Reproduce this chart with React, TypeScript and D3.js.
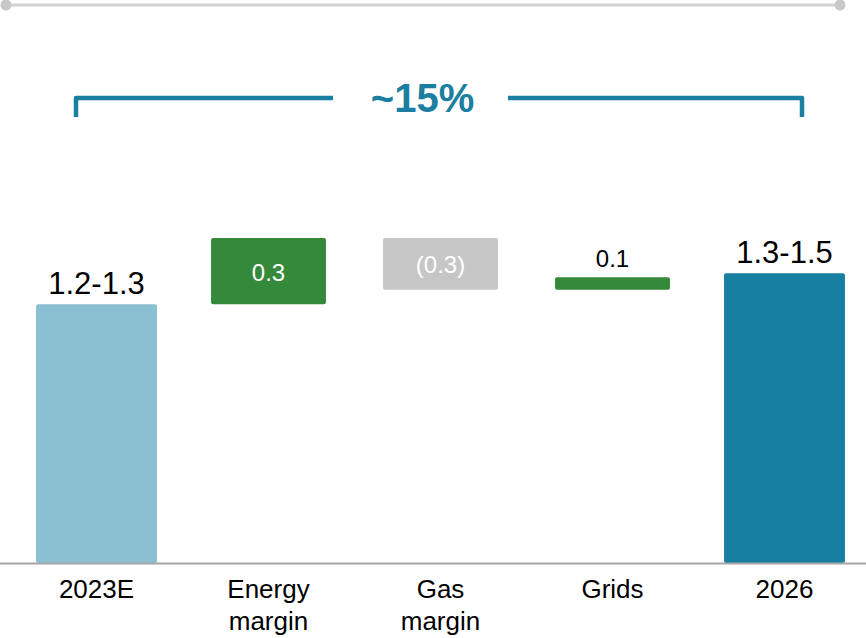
import React from "react";
import * as d3 from "d3";

const categories = ["2023E", "Energy margin", "Gas margin", "Grids", "2026"];
const categoryLines = [["2023E"], ["Energy", "margin"], ["Gas", "margin"], ["Grids"], ["2026"]];
const barKinds = ["total", "delta", "delta", "delta", "total"];
const barValues = [1.25, 0.32, -0.25, 0.06, 1.4];
const valueLabels = ["1.2-1.3", "0.3", "(0.3)", "0.1", "1.3-1.5"];
const bracketLabel = "~15%";

const W = 866;
const H = 638;
const FONT = "'Liberation Sans', Arial, sans-serif";

export default function App() {
  const x = d3.scaleBand().domain(categories).range([10.5, 870.5]).paddingInner(0.297).paddingOuter(0.1485);
  const y = d3.scaleLinear().domain([0, 2]).range([563, 563 - 414]);

  let running = 0;
  const bars = categories.map((c, i) => {
    const v = barValues[i];
    const kind = barKinds[i];
    let lo: number, hi: number;
    if (kind === "total") {
      lo = 0;
      hi = v;
      running = v;
    } else {
      lo = running;
      hi = running + v;
      running = hi;
    }
    return { c, i, v, kind, lo: Math.min(lo, hi), hi: Math.max(lo, hi) };
  });

  const colors = (i: number, kind: string, v: number) => {
    if (kind === "total") return i === 0 ? "#8bbfd2" : "#177fa2";
    return v >= 0 ? "#34893b" : "#c6c6c6";
  };

  const bw = x.bandwidth();

  return (
    <svg width={W} height={H} style={{ position: "absolute", left: 0, top: 0, display: "block" }}>
      <rect x={0} y={0} width={W} height={H} fill="#ffffff" />
      {/* top decorative line */}
      <line x1={6} x2={840} y1={5} y2={5} stroke="#d2d2d2" strokeWidth={3} />
      <circle cx={6} cy={5} r={5.5} fill="#c8c8c8" />
      <circle cx={840} cy={5} r={5.5} fill="#c8c8c8" />

      {/* bracket */}
      <path d="M76,117 V98 H333" fill="none" stroke="#1a7fa0" strokeWidth={4.5} strokeLinejoin="round" />
      <path d="M508,98 H802 V117" fill="none" stroke="#1a7fa0" strokeWidth={4.5} strokeLinejoin="round" />
      <text x={422.5} y={112} textAnchor="middle" fontFamily={FONT} fontWeight="bold" fontSize={40} fill="#1a7fa0">
        {bracketLabel}
      </text>

      {/* bars */}
      {bars.map((b) => {
        const inset = b.kind === "total" ? 0 : 3;
        const bx = (x(b.c) as number) + inset;
        const w = bw - inset * 2;
        const top = y(b.hi);
        const h = y(b.lo) - y(b.hi);
        return (
          <rect key={b.c} x={bx} y={top} width={w} height={h} rx={2} fill={colors(b.i, b.kind, b.v)} />
        );
      })}

      {/* axis */}
      <line x1={0} x2={W} y1={563.5} y2={563.5} stroke="#a6a6a6" strokeWidth={2} />

      {/* value labels */}
      {bars.map((b) => {
        const cx = (x(b.c) as number) + bw / 2;
        const top = y(b.hi);
        const h = y(b.lo) - y(b.hi);
        if (b.kind === "total") {
          return (
            <text key={b.c} x={cx} y={top - 10} textAnchor="middle" fontFamily={FONT} fontSize={31} fill="#000">
              {valueLabels[b.i]}
            </text>
          );
        }
        if (h > 30) {
          return (
            <text key={b.c} x={cx} y={top + h / 2 + 1} dy="0.35em" textAnchor="middle" fontFamily={FONT} fontSize={24} fill="#ffffff">
              {valueLabels[b.i]}
            </text>
          );
        }
        return (
          <text key={b.c} x={cx} y={top - 10} textAnchor="middle" fontFamily={FONT} fontSize={24} fill="#000">
            {valueLabels[b.i]}
          </text>
        );
      })}

      {/* category labels */}
      {categories.map((c, i) => {
        const cx = (x(c) as number) + bw / 2;
        return (
          <text key={c} textAnchor="middle" fontFamily={FONT} fontSize={26} fill="#000">
            {categoryLines[i].map((ln, j) => (
              <tspan key={j} x={cx} y={598 + j * 32}>
                {ln}
              </tspan>
            ))}
          </text>
        );
      })}
    </svg>
  );
}
